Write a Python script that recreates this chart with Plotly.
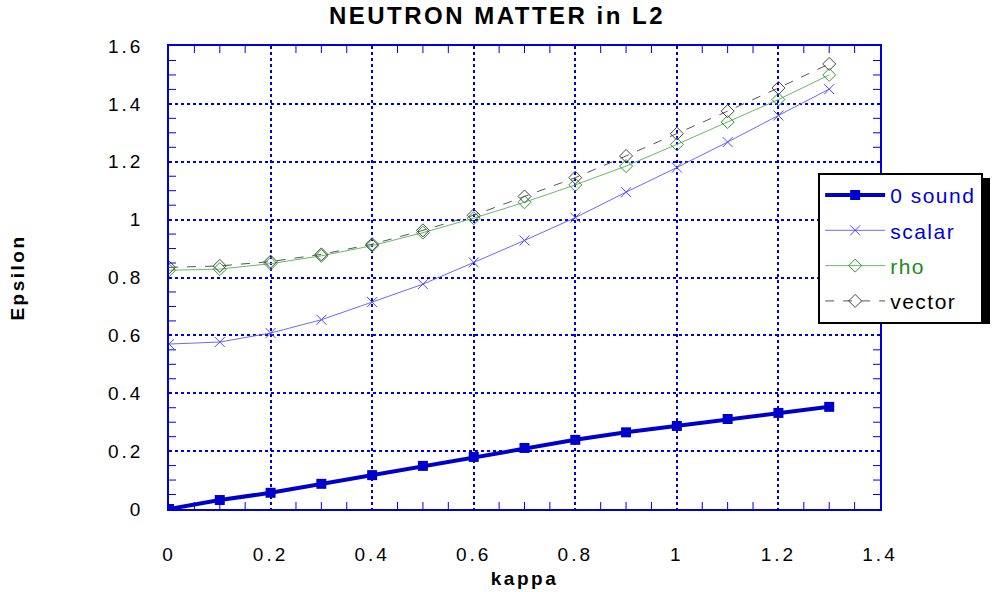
import plotly.graph_objects as go

kappa = [0, 0.1, 0.2, 0.3, 0.4, 0.5, 0.6, 0.7, 0.8, 0.9, 1.0, 1.1, 1.2, 1.3]
zero_sound = [0.0, 0.031, 0.056, 0.087, 0.117, 0.149, 0.18, 0.211, 0.239, 0.265, 0.287, 0.311, 0.332, 0.353]
scalar = [0.57, 0.577, 0.608, 0.654, 0.715, 0.777, 0.852, 0.928, 1.007, 1.095, 1.18, 1.268, 1.36, 1.451]
rho = [0.825, 0.829, 0.848, 0.875, 0.91, 0.955, 1.005, 1.06, 1.12, 1.185, 1.26, 1.337, 1.415, 1.5]
vector = [0.835, 0.84, 0.855, 0.88, 0.915, 0.963, 1.015, 1.08, 1.145, 1.22, 1.297, 1.375, 1.455, 1.538]

x_tickvals = [0, 0.2, 0.4, 0.6, 0.8, 1.0, 1.2, 1.4]
x_ticklabels = ["0", "0.2", "0.4", "0.6", "0.8", "1", "1.2", "1.4"]
y_tickvals = [0, 0.2, 0.4, 0.6, 0.8, 1.0, 1.2, 1.4, 1.6]
y_ticklabels = ["0", "0.2", "0.4", "0.6", "0.8", "1", "1.2", "1.4", "1.6"]

FONT = "Liberation Sans, Arial"
BLUE = "#0000dd"


def spaced(txt, px):
    return f"<span style='letter-spacing:{px}px'>{txt}</span>"


fig = go.Figure()
fig.add_trace(go.Scatter(x=kappa, y=zero_sound, mode="lines+markers", legendgroup="a",
                         name="<span style='color:#0000dd;letter-spacing:1.5px'>0 sound</span>",
                         line=dict(color="#0000cc", width=4),
                         marker=dict(symbol="square", size=10, color="#0000cc")))
fig.add_trace(go.Scatter(x=kappa, y=scalar, mode="lines+markers", legendgroup="b",
                         name="<span style='color:#0000dd;letter-spacing:1.5px'>scalar</span>",
                         line=dict(color="#6a6aff", width=1),
                         marker=dict(symbol="x-thin-open", size=10, color="#4a4aff",
                                     line=dict(color="#4a4aff", width=1))))
fig.add_trace(go.Scatter(x=kappa, y=rho, mode="lines+markers", legendgroup="c",
                         name="<span style='color:#1a8a1a;letter-spacing:1.5px'>rho</span>",
                         line=dict(color="#66bb66", width=1),
                         marker=dict(symbol="diamond-open", size=10, color="#2e9a2e",
                                     line=dict(width=1))))
fig.add_trace(go.Scatter(x=kappa, y=vector, mode="lines+markers", legendgroup="d",
                         name="<span style='color:#000000;letter-spacing:1.5px'>vector</span>",
                         line=dict(color="#555555", width=1, dash="dash"),
                         marker=dict(symbol="diamond-open", size=10, color="#444444",
                                     line=dict(width=1))))

# minor tick marks, inside on all four sides (markers half-clipped at the frame)
minor_x = [round(i * 0.05, 2) for i in range(1, 28) if i % 4 != 0]
minor_y = [round(i * 0.05, 2) for i in range(1, 32) if i % 4 != 0]
tick_marker_v = dict(symbol="line-ns-open", size=10, color=BLUE, line=dict(color=BLUE, width=1))
tick_marker_h = dict(symbol="line-ew-open", size=10, color=BLUE, line=dict(color=BLUE, width=1))
for yy in (0, 1.6):
    fig.add_trace(go.Scatter(x=minor_x, y=[yy] * len(minor_x), mode="markers",
                             marker=tick_marker_v, showlegend=False, hoverinfo="skip",
                             cliponaxis=True))
for xx in (0, 1.4):
    fig.add_trace(go.Scatter(x=[xx] * len(minor_y), y=minor_y, mode="markers",
                             marker=tick_marker_h, showlegend=False, hoverinfo="skip",
                             cliponaxis=True))


def axis_common():
    return dict(
        showline=True, linecolor=BLUE, linewidth=1.5, mirror=True, automargin=False,
        ticks="", showgrid=True, gridcolor=BLUE, griddash="dot", gridwidth=1.5,
        zeroline=False, tickmode="array",
        tickfont=dict(family=FONT, size=19, color="black"),
    )


fig.update_xaxes(range=[0, 1.4], tickvals=x_tickvals,
                 ticktext=[spaced(t, 3) for t in x_ticklabels], ticklabelstandoff=27,
                 title=dict(text="<b>" + spaced("kappa", 2.5) + "</b>", standoff=8,
                            font=dict(family=FONT, size=19, color="black")),
                 **axis_common())
fig.update_yaxes(range=[0, 1.6], tickvals=y_tickvals,
                 ticktext=[spaced(t, 3) for t in y_ticklabels], ticklabelstandoff=20,
                 title=dict(text="<b>" + spaced("Epsilon", 2.5) + "</b>", standoff=78,
                            font=dict(family=FONT, size=19, color="black")),
                 **axis_common())

# legend drop shadow (legend box drawn on top of it)
fig.add_shape(type="rect", xref="paper", yref="paper",
              x0=(823 - 169) / 711, x1=(990 - 169) / 711,
              y0=(509 - 324) / 463, y1=(509 - 178) / 463,
              fillcolor="black", line=dict(width=0), layer="above")

fig.update_layout(
    width=994, height=592,
    margin=dict(l=169, r=114, t=46, b=83, autoexpand=False),
    paper_bgcolor="white", plot_bgcolor="white",
    title=dict(text="<b>" + spaced("NEUTRON MATTER in L2", 2.5) + "</b>",
               x=0.5, xanchor="center", y=0.988, yanchor="top",
               font=dict(family=FONT, size=24, color="black")),
    legend=dict(x=0.913, xanchor="left", y=0.726, yanchor="top",
                bgcolor="white", bordercolor="black", borderwidth=2,
                font=dict(family=FONT, size=21),
                traceorder="grouped", tracegroupgap=5, itemwidth=60),
    showlegend=True,
)

fig.write_html("out.html")
